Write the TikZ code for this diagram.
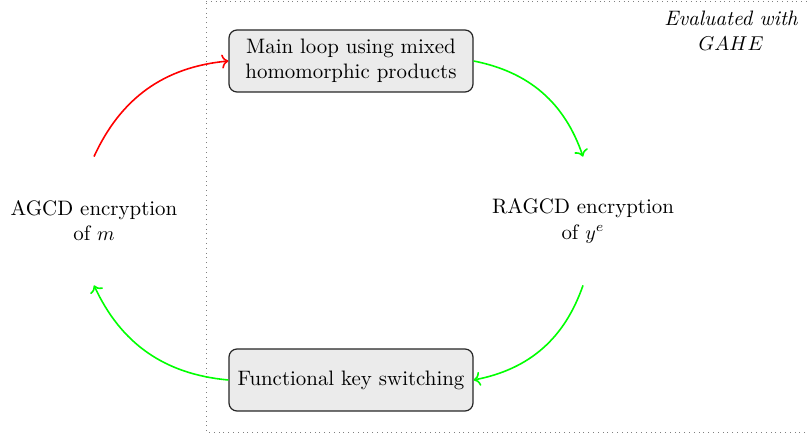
\documentclass[tikz,border=0pt]{standalone}
\usetikzlibrary{arrows.meta}
\begin{document}
\begin{tikzpicture}[x=0.5pt,y=-0.5pt,
  every node/.style={font=\fontsize{10.45}{12.6}\selectfont},
  stepbox/.style={draw=black!85, fill=black!8, rounded corners=4pt, semithick,
    minimum width=122pt, minimum height=31pt, align=center, inner sep=2pt},
  plain/.style={align=center, minimum height=64pt, inner sep=0pt},
  conn/.style={->, thick},
  frame/.style={draw=gray, dotted, thin}]
\useasboundingbox (0,0) rectangle (809,437);
\draw[frame] (206,1) -- (830,1) -- (830,432) -- (206,432) -- cycle;
\node[stepbox] (main) at (351,61) {Main loop using mixed\\homomorphic products};
\node[stepbox] (fks) at (351,380) {Functional key switching};
\node[plain] (agcd) at (94,221) {AGCD encryption\\of $m$};
\node[plain] (ragcd) at (583,221) {RAGCD encryption\\of $y^e$};
\node[align=center, font=\fontsize{10.45}{12.6}\selectfont\itshape] (eval) at (731,31) {Evaluated with\\$GAHE$};
\draw[conn, red] (agcd.north) to[bend left=30] (main.west);
\draw[conn, green] (main.east) to[bend left=30] (ragcd.north);
\draw[conn, green] (ragcd.south) to[bend left=30] (fks.east);
\draw[conn, green] (fks.west) to[bend left=30] (agcd.south);
\end{tikzpicture}
\end{document}
